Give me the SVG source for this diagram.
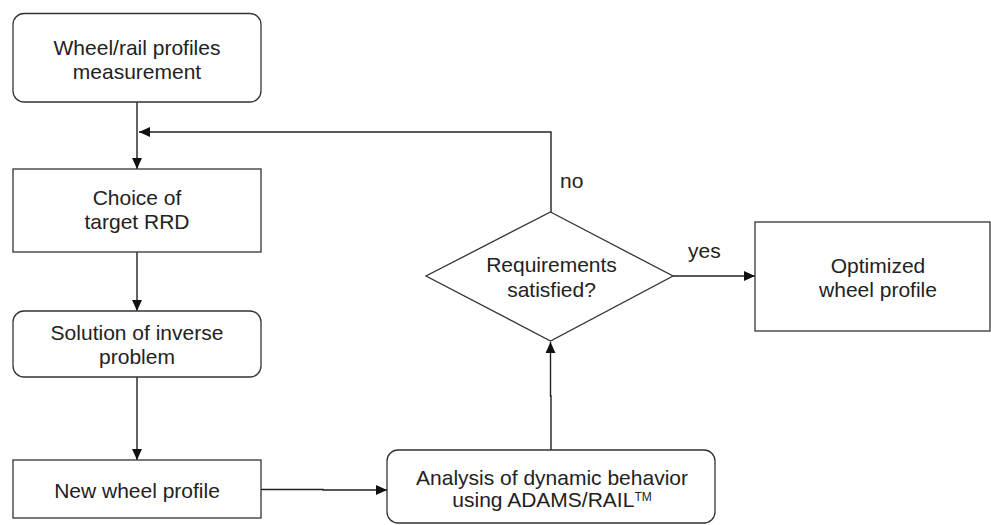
<svg xmlns="http://www.w3.org/2000/svg" width="991" height="525" viewBox="0 0 991 525">
<style>
.box{fill:#fff;stroke:#333;stroke-width:1.3}
.t{font-family:"Liberation Sans",Arial,sans-serif;font-size:21px;fill:#222;text-anchor:middle}
.l{font-family:"Liberation Sans",Arial,sans-serif;font-size:21px;fill:#222}
.c{fill:none;stroke:#222;stroke-width:1.4}
</style>
<defs>
<marker id="ah" viewBox="0 0 10 10" refX="10" refY="5" markerWidth="11" markerHeight="11" markerUnits="userSpaceOnUse" orient="auto">
<path d="M0,0.5 L10,5 L0,9.5 Z" fill="#111"/>
</marker>
</defs>
<g id="connectors">
<line class="c" x1="137" y1="102" x2="137" y2="169" marker-end="url(#ah)"/>
<polyline class="c" points="551,212 551,132 139,132" marker-end="url(#ah)"/>
<line class="c" x1="137" y1="252" x2="137" y2="311" marker-end="url(#ah)"/>
<line class="c" x1="137" y1="377" x2="137" y2="460" marker-end="url(#ah)"/>
<polyline class="c" points="261,489.5 323,489.5 323,490 387,490" marker-end="url(#ah)"/>
<polyline class="c" points="551,450 551,396 550.5,396 550.5,342" marker-end="url(#ah)"/>
<line class="c" x1="673" y1="276" x2="755" y2="276" marker-end="url(#ah)"/>
<text class="l" x="560" y="188">no</text>
<text class="l" x="688" y="258">yes</text>
</g>
<g id="n1">
<rect class="box" x="13" y="13.5" width="248" height="88.5" rx="11"/>
<text class="t" x="137" y="55">Wheel/rail profiles</text>
<text class="t" x="137" y="78.5">measurement</text>
</g>
<g id="n2">
<rect class="box" x="13" y="169" width="248" height="83"/>
<text class="t" x="137" y="205">Choice of</text>
<text class="t" x="137" y="229">target RRD</text>
</g>
<g id="n3">
<rect class="box" x="13" y="311" width="248" height="66" rx="11"/>
<text class="t" x="137" y="340">Solution of inverse</text>
<text class="t" x="137" y="364">problem</text>
</g>
<g id="n4">
<rect class="box" x="13" y="460" width="248" height="58"/>
<text class="t" x="137" y="498">New wheel profile</text>
</g>
<g id="n5">
<rect class="box" x="387" y="450" width="328" height="73" rx="11"/>
<text class="t" x="552" y="485">Analysis of dynamic behavior</text>
<text class="t" x="552" y="507">using ADAMS/RAIL<tspan font-size="12" dy="-6">TM</tspan></text>
</g>
<g id="n6">
<polygon class="box" points="550.5,212 673,276 550.5,341 426,276"/>
<text class="t" x="551.5" y="272">Requirements</text>
<text class="t" x="551.5" y="297">satisfied?</text>
</g>
<g id="n7">
<rect class="box" x="755" y="222" width="235" height="109"/>
<text class="t" x="878" y="273">Optimized</text>
<text class="t" x="878" y="297">wheel profile</text>
</g>
</svg>
